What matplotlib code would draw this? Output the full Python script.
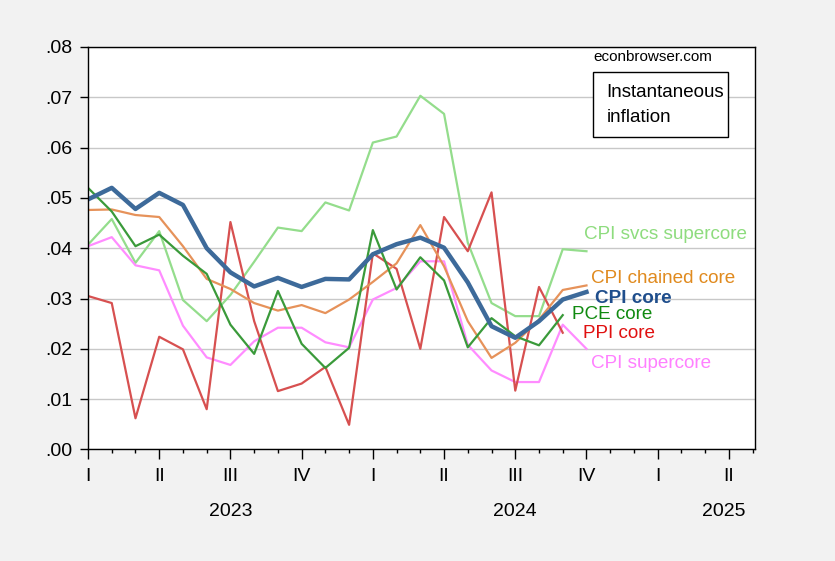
import numpy as np
import matplotlib.pyplot as plt
from matplotlib.patches import Rectangle
from matplotlib.transforms import blended_transform_factory

plt.rcParams['font.family'] = ['Liberation Sans', 'DejaVu Sans']

# monthly, Jan 2023 = 0
cpi_core = [.0497, .0520, .0478, .0510, .0486, .0400, .0352, .0324, .0341, .0323, .0339,
            .0338, .0388, .0408, .0421, .0401, .0332, .0245, .0222, .0255, .0298, .0313]
cpi_chained = [.0476, .0477, .0466, .0462, .0404, .0339, .0319, .0291, .0276, .0287, .0271,
               .0298, .0333, .0370, .0446, .0364, .0255, .0182, .0212, .0258, .0317, .0326]
pce_core = [.0520, .0473, .0404, .0427, .0385, .0349, .0248, .0190, .0315, .0210, .0162,
            .0202, .0436, .0318, .0382, .0336, .0203, .0261, .0225, .0207, .0267]
svcs_supercore = [.0407, .0458, .0371, .0434, .0297, .0255, .0307, .0373, .0441, .0434, .0491,
                  .0475, .0610, .0622, .0703, .0667, .0411, .0291, .0265, .0265, .0398, .0394]
cpi_supercore = [.0404, .0422, .0366, .0356, .0246, .0183, .0168, .0215, .0242, .0242, .0213,
                 .0203, .0298, .0321, .0374, .0374, .0208, .0157, .0134, .0134, .0248, .0200]
ppi_core = [.0305, .0291, .0062, .0224, .0199, .0080, .0452, .0255, .0116, .0131, .0164,
            .0049, .0390, .0359, .0200, .0462, .0394, .0511, .0117, .0323, .0232]

quarters = ['I', 'II', 'III', 'IV', 'I', 'II', 'III', 'IV', 'I', 'II']
years = ['2023', '2024', '2025']
year_pos = [6, 18, 26.8]

fig = plt.figure(figsize=(8.35, 5.61), dpi=100, facecolor='#f2f2f2')
ax = fig.add_axes([0.1054, 0.1988, 0.7988, 0.7175])
ax.set_facecolor('white')

ax.plot(np.arange(len(svcs_supercore)), svcs_supercore, color='#94dd8c', lw=1.6)
ax.plot(np.arange(len(cpi_supercore)), cpi_supercore, color='#ff8cff', lw=1.6)
ax.plot(np.arange(len(ppi_core)), ppi_core, color='#d75050', lw=1.6)
ax.plot(np.arange(len(cpi_chained)), cpi_chained, color='#e6925a', lw=1.6)
ax.plot(np.arange(len(pce_core)), pce_core, color='#3a9a3a', lw=1.6)
ax.plot(np.arange(len(cpi_core)), cpi_core, color='#3d6a9a', lw=3.2)

ax.set_xlim(0, 28.1)
ax.set_ylim(0, 0.08)
ax.set_yticks(np.arange(0, 0.081, 0.01))
ax.set_yticklabels([f'{v:.2f}'[1:] for v in np.arange(0, 0.081, 0.01)])
ax.yaxis.grid(True, color='#c8c8c8', lw=1)
ax.set_axisbelow(True)

ax.set_xticks(np.arange(0, 28, 3))
ax.set_xticklabels(quarters)
ax.set_xticks(np.arange(0, 29), minor=True)
ax.tick_params(axis='x', which='major', length=7, width=1, pad=6, labelsize=14)
ax.tick_params(axis='x', which='minor', length=3, width=1)
ax.tick_params(axis='y', length=6, width=1, pad=5, labelsize=14)
for s in ax.spines.values():
    s.set_linewidth(1)

tr = blended_transform_factory(ax.transData, ax.transAxes)
for yr, xp in zip(years, year_pos):
    ax.text(xp, -0.153, yr, transform=tr, ha='center', va='center', fontsize=14)

# series labels
fs = 13.6
ax.text(20.9, .0427, 'CPI svcs supercore', color='#8edc7e', fontsize=fs, va='center')
ax.text(21.2, .0340, 'CPI chained core', color='#e08a1e', fontsize=fs, va='center')
ax.text(21.35, .0301, 'CPI core', color='#1f4e8c', fontsize=fs, va='center', fontweight='bold')
ax.text(20.4, .0268, 'PCE core', color='#108a10', fontsize=fs, va='center')
ax.text(20.85, .0231, 'PPI core', color='#e01010', fontsize=fs, va='center')
ax.text(21.2, .0170, 'CPI supercore', color='#ff80ff', fontsize=fs, va='center')

ax.text(0.757, 0.975, 'econbrowser.com', transform=ax.transAxes, fontsize=11, va='center')
ax.add_patch(Rectangle((0.757, 0.776), 0.203, 0.162, transform=ax.transAxes,
                       fill=True, facecolor='white', edgecolor='black', lw=1, zorder=5))
ax.text(0.777, 0.887, 'Instantaneous', transform=ax.transAxes, fontsize=13.5, va='center', zorder=6)
ax.text(0.777, 0.825, 'inflation', transform=ax.transAxes, fontsize=13.5, va='center', zorder=6)

fig.savefig('out.png', dpi=100, facecolor=fig.get_facecolor())
